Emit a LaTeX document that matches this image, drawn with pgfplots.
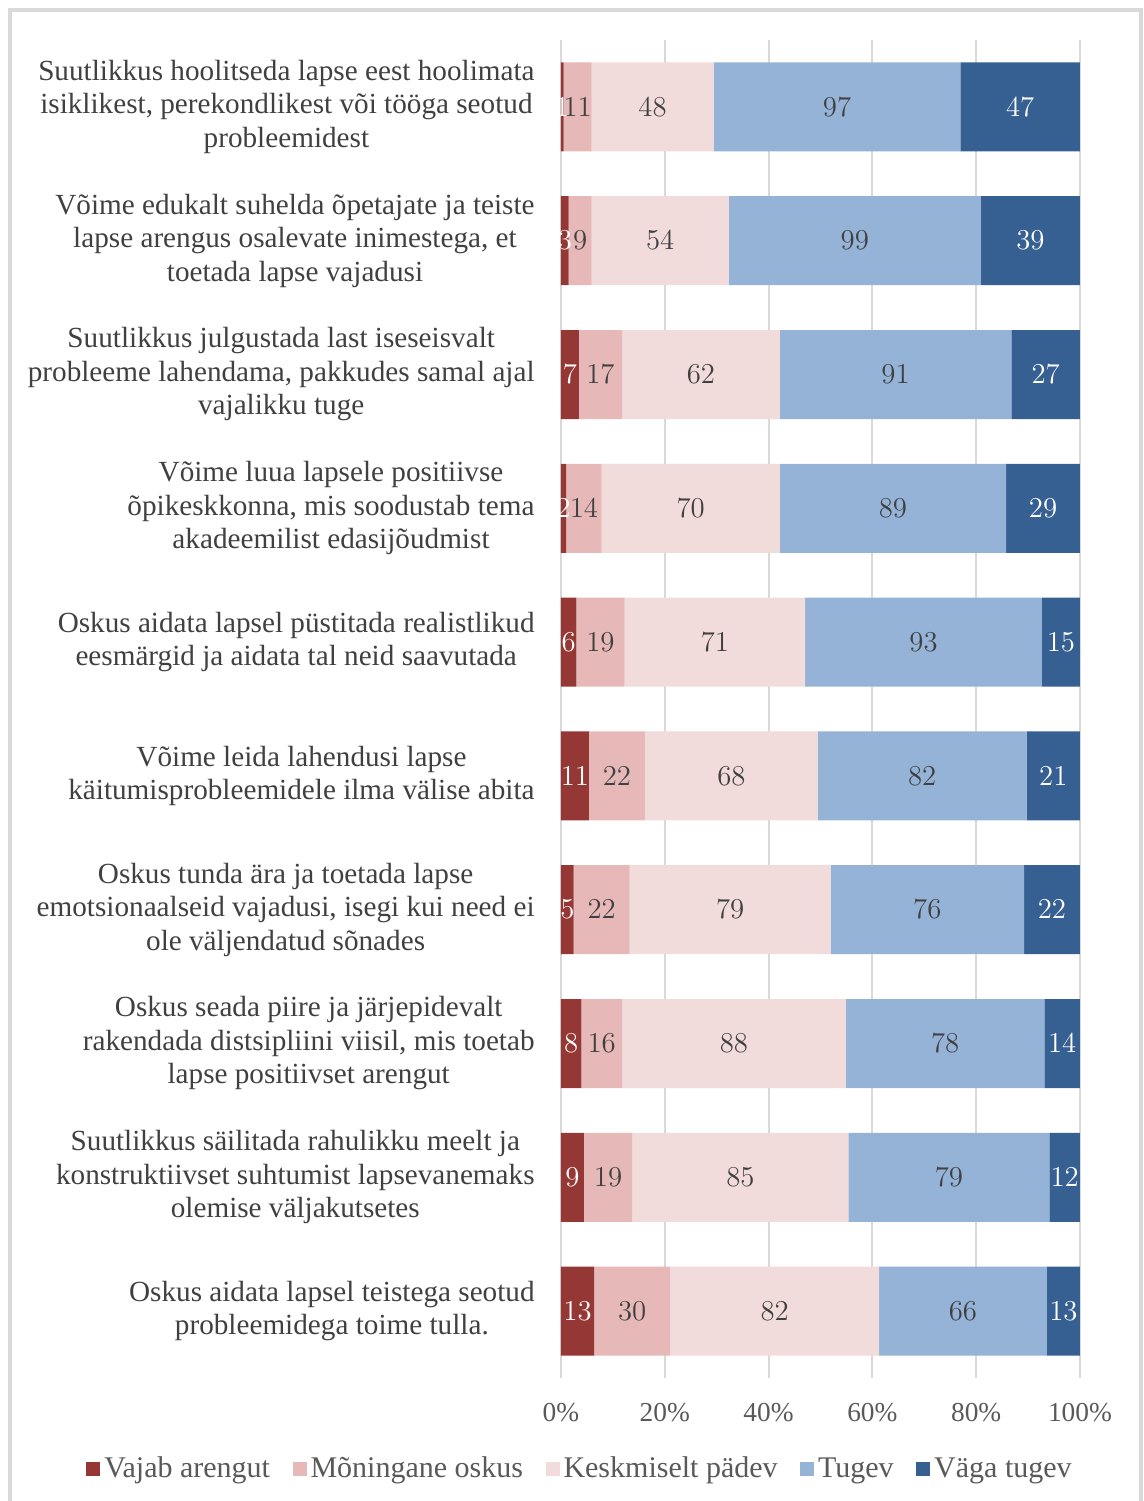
\documentclass[border=0pt]{standalone}
\usepackage{fontspec}
\setmainfont{Liberation Serif}
\usepackage{pgfplots}
\usepackage{pgfplotstable}
\pgfplotsset{compat=1.18}
\definecolor{c1}{HTML}{953735}
\definecolor{c2}{HTML}{E6B9B8}
\definecolor{c3}{HTML}{F2DCDB}
\definecolor{c4}{HTML}{95B3D7}
\definecolor{c5}{HTML}{376092}
\definecolor{gridc}{HTML}{D9D9D9}
\definecolor{txt}{HTML}{404040}
\definecolor{ticktxt}{HTML}{595959}

\pgfplotstableread{
y p1 n1 p2 n2 p3 n3 p4 n4 p5 n5
0 0.490 1 5.392 11 23.529 48 47.549 97 23.038 47
1 1.471 3 4.412 9 26.471 54 48.529 99 19.115 39
2 3.431 7 8.333 17 30.392 62 44.608 91 13.234 27
3 0.980 2 6.863 14 34.314 70 43.627 89 14.214 29
4 2.941 6 9.314 19 34.804 71 45.588 93 7.351 15
5 5.392 11 10.784 22 33.333 68 40.196 82 10.293 21
6 2.451 5 10.784 22 38.725 79 37.255 76 10.783 22
7 3.922 8 7.843 16 43.137 88 38.235 78 6.861 14
8 4.412 9 9.314 19 41.667 85 38.725 79 5.880 12
9 6.373 13 14.706 30 40.196 82 32.353 66 6.370 13
}\data

\begin{document}
\begin{tikzpicture}[font=\fontsize{14.6pt}{16.75pt}\selectfont]
\path[use as bounding box] (-280.5pt,-61.5pt) rectangle (291.5pt,689pt);
\draw[gridc, line width=2pt] (-275.5pt,-80pt) rectangle (290pt,684pt);
\begin{axis}[
  at={(0,0)}, anchor=south west,
  scale only axis,
  width=259.5pt, height=669pt,
  xbar stacked,
  bar width=44.5pt,
  xmin=0, xmax=100,
  ymin=-0.5, ymax=9.5,
  y dir=reverse,
  axis line style={draw=none},
  tick style={draw=none},
  xmajorgrids,
  major grid style={gridc, line width=1pt},
  xtick={0,20,40,60,80,100},
  xticklabels={0\%,20\%,40\%,60\%,80\%,100\%},
  xticklabel style={anchor=base, yshift=-21.5pt, text=ticktxt, font=\fontsize{13.7pt}{16pt}\selectfont},
  ytick={0,...,9},
  yticklabels={
    {Suutlikkus hoolitseda lapse eest hoolimata\\isiklikest, perekondlikest või tööga seotud\\probleemidest},
    {Võime edukalt suhelda õpetajate ja teiste\\lapse arengus osalevate inimestega, et\\toetada lapse vajadusi},
    {Suutlikkus julgustada last iseseisvalt\\probleeme lahendama, pakkudes samal ajal\\vajalikku tuge},
    {Võime luua lapsele positiivse\\õpikeskkonna, mis soodustab tema\\akadeemilist edasijõudmist},
    {Oskus aidata lapsel püstitada realistlikud\\eesmärgid ja aidata tal neid saavutada},
    {Võime leida lahendusi lapse\\käitumisprobleemidele ilma välise abita},
    {Oskus tunda ära ja toetada lapse\\emotsionaalseid vajadusi, isegi kui need ei\\ole väljendatud sõnades},
    {Oskus seada piire ja järjepidevalt\\rakendada distsipliini viisil, mis toetab\\lapse positiivset arengut},
    {Suutlikkus säilitada rahulikku meelt ja\\konstruktiivset suhtumist lapsevanemaks\\olemise väljakutsetes},
    {Oskus aidata lapsel teistega seotud\\probleemidega toime tulla.}
  },
  yticklabel style={align=center, anchor=east, inner sep=0pt, xshift=-13pt, text=txt},
  nodes near coords,
  point meta=explicit,
  legend columns=5,
  legend style={at={(0.0385,-0.068)}, anchor=center, draw=none, text=ticktxt,
    font=\fontsize{15pt}{17pt}\selectfont,
    /tikz/every even column/.append style={column sep=9.25pt},
    /tikz/every odd column/.append style={column sep=0pt}},
]
\addplot[fill=c1, draw=none, every node near coord/.append style={text=white},
  legend image code/.code={\fill[c1] (0pt,-3.5pt) rectangle (7pt,3.5pt);}]
  table[x=p1, y=y, meta=n1] {\data};
\addplot[fill=c2, draw=none, every node near coord/.append style={text=txt},
  legend image code/.code={\fill[c2] (0pt,-3.5pt) rectangle (7pt,3.5pt);}]
  table[x=p2, y=y, meta=n2] {\data};
\addplot[fill=c3, draw=none, every node near coord/.append style={text=txt},
  legend image code/.code={\fill[c3] (0pt,-3.5pt) rectangle (7pt,3.5pt);}]
  table[x=p3, y=y, meta=n3] {\data};
\addplot[fill=c4, draw=none, every node near coord/.append style={text=txt},
  legend image code/.code={\fill[c4] (0pt,-3.5pt) rectangle (7pt,3.5pt);}]
  table[x=p4, y=y, meta=n4] {\data};
\addplot[fill=c5, draw=none, every node near coord/.append style={text=white},
  legend image code/.code={\fill[c5] (0pt,-3.5pt) rectangle (7pt,3.5pt);}]
  table[x=p5, y=y, meta=n5] {\data};
\legend{Vajab arengut, Mõningane oskus, Keskmiselt pädev, Tugev, Väga tugev}
\end{axis}
\end{tikzpicture}
\end{document}
